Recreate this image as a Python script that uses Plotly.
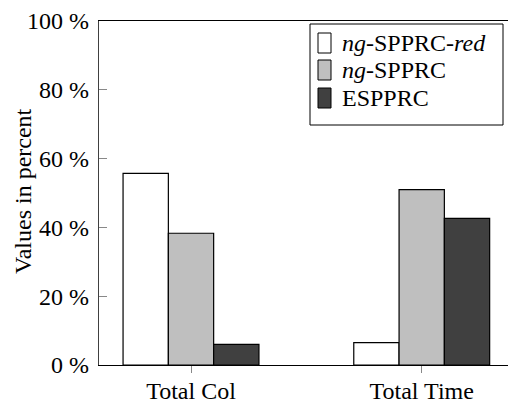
import plotly.graph_objects as go

categories = ["Total Col", "Total Time"]
series_names = ["<i>ng</i>-SPPRC-<i>red</i>", "<i>ng</i>-SPPRC", "ESPPRC"]
ng_red = [55.7, 6.5]
ng = [38.3, 51.0]
espprc = [6.0, 42.6]
y_ticks = [0, 20, 40, 60, 80, 100]
y_tick_labels = ["0 %", "20 %", "40 %", "60 %", "80 %", "100 %"]

colors = ["#ffffff", "#bfbfbf", "#404040"]
values = [ng_red, ng, espprc]

W, H = 508, 403
L, R, T, B = 99, 0, 21, 38
FONT = "Liberation Serif, Times New Roman, serif"

fig = go.Figure()
for name, vals, col in zip(series_names, values, colors):
    fig.add_trace(go.Bar(
        x=categories, y=vals, name=name,
        marker=dict(color=col, line=dict(color="#000000", width=1.2)),
        showlegend=False,
    ))

pw = W - L - R
ph = H - T - B


def px_x(p):
    return (p - L) / pw


def px_y(p):
    return (H - B - p) / ph


shapes = []
annotations = []
# legend box
shapes.append(dict(type="rect", xref="paper", yref="paper",
                   x0=px_x(310), x1=px_x(503), y0=px_y(125), y1=px_y(24),
                   line=dict(color="#000000", width=1), fillcolor="rgba(255,255,255,1)"))
rows = [43, 70, 98]
for name, col, cy in zip(series_names, colors, rows):
    shapes.append(dict(type="rect", xref="paper", yref="paper",
                       x0=px_x(318), x1=px_x(331), y0=px_y(cy + 10), y1=px_y(cy - 10),
                       line=dict(color="#000000", width=1), fillcolor=col))
    annotations.append(dict(xref="paper", yref="paper", x=px_x(340), y=px_y(cy),
                            xanchor="left", yanchor="middle", showarrow=False,
                            text=name, font=dict(family=FONT, size=24, color="#000000")))
# y axis title
annotations.append(dict(xref="paper", yref="paper", x=px_x(23), y=px_y(191),
                        xanchor="center", yanchor="middle", showarrow=False, textangle=-90,
                        text="Values in percent", font=dict(family=FONT, size=24, color="#000000")))

fig.update_layout(
    width=W, height=H,
    margin=dict(l=L, r=R, t=T, b=B, pad=0, autoexpand=False),
    paper_bgcolor="white", plot_bgcolor="white",
    barmode="group", bargap=0.411, bargroupgap=0,
    font=dict(family=FONT, size=24, color="#000000"),
    shapes=shapes, annotations=annotations,
    showlegend=False,
)
fig.update_xaxes(
    range=[-0.3988, 1.374], automargin=False,
    showline=True, linecolor="#000000", linewidth=1.2, mirror=True,
    ticks="outside", ticklen=7, tickcolor="#888888", tickwidth=1,
    ticklabelstandoff=-3,
    showgrid=False, zeroline=False,
    tickfont=dict(family=FONT, size=24, color="#000000"),
)
fig.update_yaxes(
    range=[0, 100], automargin=False,
    tickvals=y_ticks, ticktext=y_tick_labels,
    showline=True, linecolor="#404040", linewidth=1.2,
    ticks="inside", ticklen=8, tickcolor="#888888", tickwidth=1,
    ticklabelstandoff=4,
    showgrid=False, zeroline=False,
    tickfont=dict(family=FONT, size=24, color="#000000"),
)

fig.write_html("out.html", config={"displayModeBar": False},
               post_script="document.body.style.margin='0';document.body.style.overflow='hidden';")
